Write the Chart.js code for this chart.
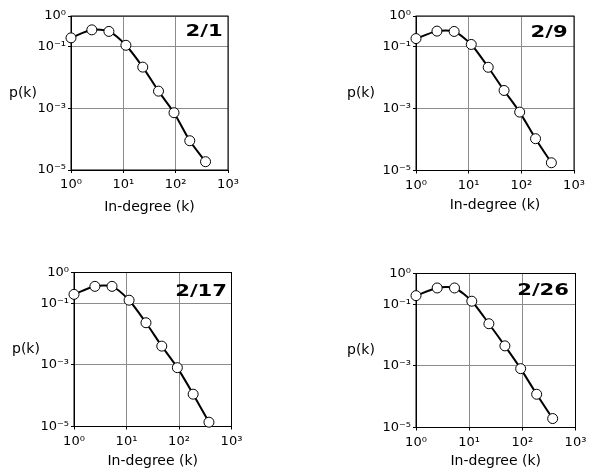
<!DOCTYPE html>
<html lang="en">
  <head>
    <meta charset="UTF-8" />
    <title>In-degree distributions</title>
    <script src="https://cdn.jsdelivr.net/npm/chart.js@4"></script>
    <style>
      body { margin: 0; background: #fff; }
      #wrap { position: relative; width: 593px; height: 472px; overflow: hidden; }
      canvas { position: absolute; }
    </style>
  </head>
  <body>
    <div id="wrap">
      <canvas id="c1"></canvas>
      <canvas id="c2"></canvas>
      <canvas id="c3"></canvas>
      <canvas id="c4"></canvas>
    </div>
    <script>
      // in-degree bins (k) shared by all four snapshots
      const kValues = [1, 2.5, 5.3, 11.2, 23.5, 47, 93, 186, 372];
      const snapshotLabels = ["2/1", "2/9", "2/17", "2/26"];
      const pFeb1 = [0.195, 0.355, 0.316, 0.112, 0.0219, 0.00363, 0.000724, 0.0000891, 0.0000186];
      const pFeb9 = [0.186, 0.324, 0.316, 0.12, 0.0219, 0.00389, 0.000776, 0.000107, 0.0000178];
      const pFeb17 = [0.195, 0.355, 0.355, 0.126, 0.0234, 0.00407, 0.000813, 0.000112, 0.0000138];
      const pFeb26 = [0.191, 0.339, 0.339, 0.126, 0.0234, 0.00447, 0.000813, 0.00012, 0.0000195];
      const xTicks = [1, 10, 100, 1000];
      const yTicks = [1, 0.1, 0.001, 0.00001];

      const FONT = "'DejaVu Sans', Verdana, sans-serif";
      const sup = { "0": "\u2070", "1": "\u00b9", "2": "\u00b2", "3": "\u00b3", "4": "\u2074", "5": "\u2075", "-": "\u207b" };
      function powLabel(v) {
        const e = String(Math.round(Math.log10(v)));
        return "10" + e.split("").map((c) => sup[c]).join("");
      }

      // canvas box [x, y, w, h], chart area [left, top, right, bottom] in page px
      const panels = [
        { id: "c1", box: [0, 0, 260, 236], area: [71, 16, 228, 170], data: pFeb1, label: snapshotLabels[0], titleY: 207, pkX: 9, lblDx: 5.3, lblDy: 19.7 },
        { id: "c2", box: [330, 0, 263, 236], area: [416, 16, 574, 170.5], data: pFeb9, label: snapshotLabels[1], titleY: 205, pkX: 347, lblDx: 6.3, lblDy: 20.5 },
        { id: "c3", box: [0, 250, 260, 222], area: [74, 272.5, 231.5, 426.5], data: pFeb17, label: snapshotLabels[2], titleY: 461.5, pkX: 12, lblDx: 4.5, lblDy: 23 },
        { id: "c4", box: [330, 250, 263, 222], area: [416, 273.5, 575.5, 427.5], data: pFeb26, label: snapshotLabels[3], titleY: 461.5, pkX: 347, lblDx: 6.5, lblDy: 21.5 },
      ];

      const panelText = {
        id: "panelText",
        beforeDatasetsDraw(chart, args, opts) {
          const a = chart.chartArea;
          const ctx = chart.ctx;
          ctx.save();
          ctx.strokeStyle = "#000";
          ctx.lineWidth = 1;
          ctx.strokeRect(a.left, a.top, a.right - a.left, a.bottom - a.top);
          ctx.restore();
        },
        afterDraw(chart, args, opts) {
          const a = chart.chartArea;
          const ctx = chart.ctx;
          ctx.save();
          ctx.fillStyle = "#000";
          ctx.textBaseline = "middle";
          ctx.textAlign = "left";
          ctx.font = "14px " + FONT;
          ctx.fillText("p(k)", opts.pkX, (a.top + a.bottom) / 2);
          // date label, a bit wider than DejaVu bold to match the original face
          ctx.translate(a.right - opts.lblDx, a.top + opts.lblDy);
          ctx.scale(1.32, 1);
          ctx.textAlign = "right";
          ctx.textBaseline = "alphabetic";
          ctx.font = "bold 16px " + FONT;
          ctx.fillText(opts.label, 0, 0);
          ctx.restore();
        },
      };

      panels.forEach((p) => {
        const [bx, by, bw, bh] = p.box;
        const [L, T, R, B] = p.area;
        const canvas = document.getElementById(p.id);
        canvas.width = bw;
        canvas.height = bh;
        canvas.style.left = bx + "px";
        canvas.style.top = by + "px";
        const axisH = by + bh - B;
        const titlePad = by + bh - p.titleY - 8.4;
        new Chart(canvas.getContext("2d"), {
          type: "scatter",
          data: {
            datasets: [
              {
                data: kValues.map((k, i) => ({ x: k, y: p.data[i] })),
                showLine: true,
                borderColor: "#000",
                borderWidth: 2,
                tension: 0.25,
                pointRadius: 5,
                pointBackgroundColor: "#fff",
                pointBorderColor: "#000",
                pointBorderWidth: 1,
                clip: false,
              },
            ],
          },
          options: {
            responsive: false,
            animation: false,
            devicePixelRatio: 1,
            layout: { padding: { top: T - by, right: bx + bw - R, left: 0, bottom: 0 } },
            plugins: {
              legend: { display: false },
              tooltip: { enabled: false },
              panelText: { pkX: p.pkX - bx, label: p.label, lblDx: p.lblDx, lblDy: p.lblDy },
            },
            scales: {
              x: {
                type: "logarithmic",
                min: 1,
                max: 1000,
                afterBuildTicks: (s) => { s.ticks = xTicks.map((v) => ({ value: v })); },
                afterFit: (s) => { s.height = axisH; },
                ticks: { color: "#000", font: { family: FONT, size: 13 }, padding: 4, maxRotation: 0, callback: (v) => powLabel(v) },
                grid: { color: "#8c8c8c", tickColor: "#000", tickLength: 3 },
                border: { color: "#000" },
                title: { display: true, text: "In-degree (k)", color: "#000", font: { family: FONT, size: 14 }, padding: { top: 0, bottom: titlePad } },
              },
              y: {
                type: "logarithmic",
                min: 0.00001,
                max: 1,
                afterBuildTicks: (s) => { s.ticks = yTicks.map((v) => ({ value: v })); },
                afterFit: (s) => { s.width = L - bx; },
                ticks: { color: "#000", font: { family: FONT, size: 13 }, padding: 2, callback: (v) => powLabel(v) },
                grid: { color: "#8c8c8c", tickColor: "#000", tickLength: 3 },
                border: { color: "#000" },
              },
            },
          },
          plugins: [panelText],
        });
      });
    </script>
  </body>
</html>
